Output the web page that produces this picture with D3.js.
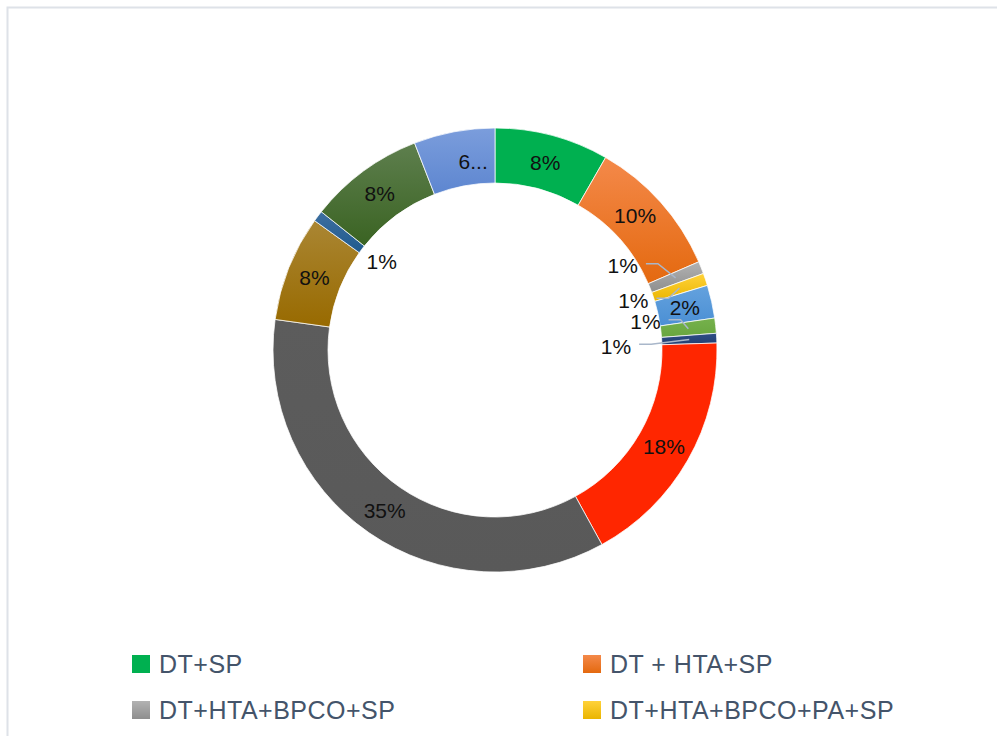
<!DOCTYPE html>
<html>
<head>
<meta charset="utf-8">
<script src="https://cdn.jsdelivr.net/npm/d3@7"></script>
<style>
  body { margin: 0; background: #fff; }
  svg { display: block; font-family: "Liberation Sans", Arial, sans-serif; }
</style>
</head>
<body>
<script>
const canvasWidth = 997,
  canvasHeight = 736;

// slices, clockwise from 12 o'clock
const sliceValues = [8.3, 10.2, 0.9, 0.9, 2.4, 1.1, 0.7, 17.5, 35.2, 7.7, 0.8, 8.4, 5.9];
const sliceLabels = ["8%", "10%", "1%", "1%", "2%", "1%", "1%", "18%", "35%", "8%", "1%", "8%", "6..."];
const sliceTop = ["#00B050", "#F4894A", "#B2B2B2", "#FFD23A", "#64A2DE", "#75B14C", "#2E4E86", "#FF2600", "#5C5C5C", "#AA8633", "#3E6FA0", "#5E7F4E", "#7B9DDC"];
const sliceBottom = ["#00B050", "#E4690F", "#8E8E8E", "#EAB500", "#4B8FD4", "#69A63F", "#233F72", "#FF2600", "#595959", "#986A00", "#1F5A8E", "#3A6322", "#5D86D0"];

// only the first legend entries fit in the frame
const legendNames = ["DT+SP", "DT + HTA+SP", "DT+HTA+BPCO+SP", "DT+HTA+BPCO+PA+SP"];

const cx = 495,
  cy = 350,
  outerR = 222,
  innerR = 167;

// labels that sit outside their slice, polar position (deg, radius)
const callouts = {
  2: { angle: 56.6, r: 153 },
  3: { angle: 70.2, r: 147 },
  5: { angle: 79.4, r: 153 },
  6: { angle: 88.2, r: 121 },
  10: { angle: 308.1, r: 144, noLine: true }
};
// small nudges of inside labels
const nudges = { 1: [-5, -5], 12: [14, 3] };

const svg = d3
  .select("body")
  .append("svg")
  .attr("width", canvasWidth)
  .attr("height", canvasHeight);

const defs = svg.append("defs");
sliceTop.forEach((c, i) => {
  const g = defs
    .append("linearGradient")
    .attr("id", "grad" + i)
    .attr("x1", 0)
    .attr("y1", 0)
    .attr("x2", 0)
    .attr("y2", 1);
  g.append("stop").attr("offset", "0%").attr("stop-color", c);
  g.append("stop").attr("offset", "100%").attr("stop-color", sliceBottom[i]);
});

// chart frame (runs past the right and bottom edges)
svg
  .append("rect")
  .attr("x", 7.5)
  .attr("y", 7.5)
  .attr("width", canvasWidth + 20)
  .attr("height", canvasHeight + 20)
  .attr("fill", "none")
  .attr("stroke", "#DEE2E8")
  .attr("stroke-width", 2);

const pie = d3
  .pie()
  .sort(null)
  .value(d => d);

const arcs = pie(sliceValues);

const arc = d3
  .arc()
  .innerRadius(innerR)
  .outerRadius(outerR);

const chart = svg.append("g").attr("transform", `translate(${cx},${cy})`);

chart
  .selectAll("path.slice")
  .data(arcs)
  .enter()
  .append("path")
  .classed("slice", true)
  .attr("d", arc)
  .attr("fill", (d, i) => `url(#grad${i})`)
  .attr("stroke", "#fff")
  .attr("stroke-width", 0.75);

function polar(angleDeg, r) {
  const a = (angleDeg * Math.PI) / 180;
  return [r * Math.sin(a), -r * Math.cos(a)];
}

const labelG = chart.append("g");

arcs.forEach((d, i) => {
  let pos;
  if (callouts[i]) {
    pos = polar(callouts[i].angle, callouts[i].r);
  } else {
    pos = arc.centroid(d);
    if (nudges[i]) {
      pos = [pos[0] + nudges[i][0], pos[1] + nudges[i][1]];
    }
  }
  const t = labelG
    .append("text")
    .attr("x", pos[0])
    .attr("y", pos[1])
    .attr("dy", "0.36em")
    .attr("text-anchor", "middle")
    .attr("font-size", 21)
    .attr("fill", "#111")
    .text(sliceLabels[i]);

  if (callouts[i] && !callouts[i].noLine) {
    const box = t.node().getBBox();
    const start = [box.x + box.width + 8, pos[1] - 2];
    const elbow = [start[0] + 12, start[1]];
    const end = arc.centroid(d);
    labelG
      .append("path")
      .attr("d", d3.line()([start, elbow, end]))
      .attr("fill", "none")
      .attr("stroke", "#A9B7CA")
      .attr("stroke-width", 1.5);
  }
});

// legend
const legendCols = [132, 583],
  legendRows = [655, 701];

const legend = svg
  .selectAll("g.legend")
  .data(legendNames)
  .enter()
  .append("g")
  .classed("legend", true)
  .attr("transform", (d, i) => `translate(${legendCols[i % 2]},${legendRows[Math.floor(i / 2)]})`);

legend
  .append("rect")
  .attr("width", 18)
  .attr("height", 18)
  .attr("fill", (d, i) => `url(#grad${i})`);

legend
  .append("text")
  .attr("x", 27)
  .attr("y", 17.7)
  .attr("font-size", 25)
  .attr("letter-spacing", 0.5)
  .attr("fill", "#44546A")
  .text(d => d);
</script>
</body>
</html>
